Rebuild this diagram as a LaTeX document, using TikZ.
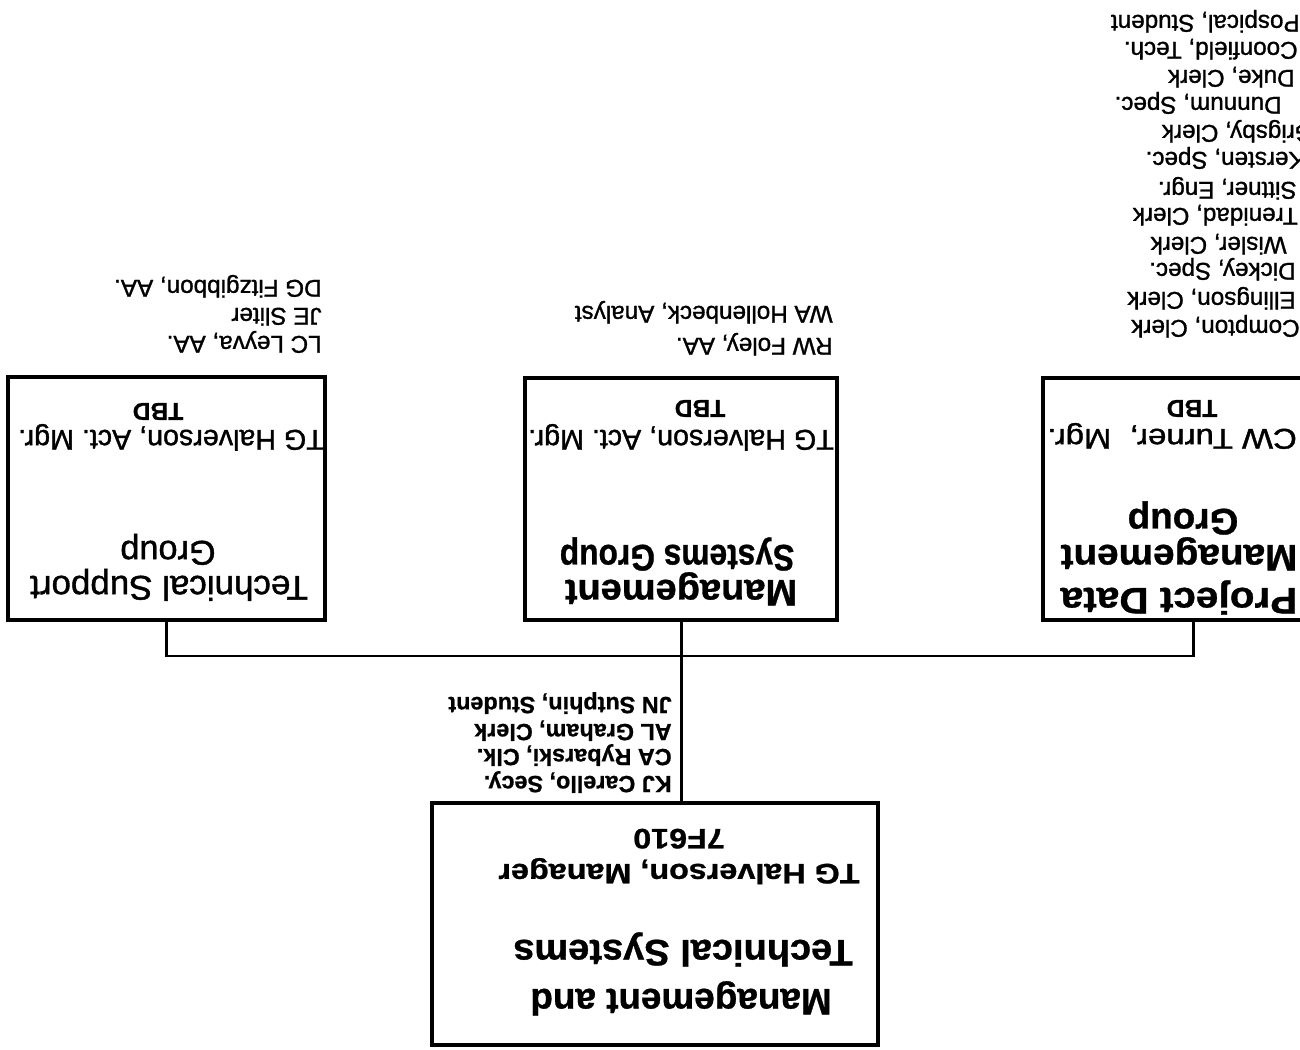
\documentclass[tikz,border=0pt]{standalone}
\usepackage{fontspec}
\setmainfont{Liberation Sans}
\newfontfamily\hv[FakeBold=1.2]{Liberation Sans}
\newfontfamily\hvb[FakeBold=0.8]{Liberation Sans Bold}
\frenchspacing
\begin{document}
\begin{tikzpicture}[x=0.02cm,y=-0.02cm,
  box/.style={draw, line width=2pt, inner sep=0pt},
  wire/.style={line width=1.7pt},
  txt/.style={inner sep=0pt, anchor=base},
  ttl/.style={txt, font=\fontsize{21}{25}\selectfont\hvb},
  ttlr/.style={txt, font=\fontsize{19.5}{23}\selectfont\hv},
  mgr/.style={txt, font=\fontsize{16.3}{19}\selectfont\hv},
  mgrb/.style={txt, font=\fontsize{16}{19}\selectfont\hvb},
  tbd/.style={txt, font=\fontsize{14}{16}\selectfont\hvb},
  lst/.style={inner sep=0pt, anchor=base west, font=\fontsize{13.8}{16}\selectfont\hv},
  lstb/.style={inner sep=0pt, anchor=base west, font=\fontsize{13.3}{16}\selectfont\hvb}]
\useasboundingbox (0,0) rectangle (1300,1050);
\fill[white] (0,0) rectangle (1300,1050);
\clip (0,0) rectangle (1300,1050);
\begin{scope}[rotate around={180:(650,525)}, transform shape]
  % boxes
  \node[box, minimum width=8.92cm, minimum height=4.84cm] (mt) at (645,126) {};
  \node[box, minimum width=6.34cm, minimum height=4.86cm] (ts) at (1133.5,551.5) {};
  \node[box, minimum width=6.24cm, minimum height=4.84cm] (msg) at (619,551) {};
  \node[box, minimum width=6.0cm, minimum height=4.84cm] (pdm) at (107,551) {};
  % connectors
  \coordinate (bus) at (619,394);
  \draw[wire] (mt.south -| msg.north) -- (msg.north);
  \draw[wire] (ts.north) -- (ts.north |- bus) -- (pdm.north |- bus) -- (pdm.north);
  % main box
  \node[ttl] (mt1) at (619,61) {Management and};
  \node[ttl] (mt2) at (617,110) {\scalebox{1.03}[1]{Technical Systems}};
  \node[mgrb] (mt3) at (621,186) {\scalebox{1.15}[1]{TG Halverson, Manager}};
  \node[mgrb] (mt4) at (621,221) {\scalebox{1.15}[1]{7F610}};
  % main staff
  \node[lstb] (k1) at (628,274) {KJ Carello, Secy.};
  \node[lstb] (k2) at (628,301) {CA Rybarski, Clk.};
  \node[lstb] (k3) at (628,326) {AL Graham, Clerk};
  \node[lstb] (k4) at (628,353) {JN Sutphin, Student};
  % technical support
  \node[ttlr] (ts1) at (1131,474) {\scalebox{1.02}[1]{Technical Support}};
  \node[ttlr] (ts2) at (1132,509) {Group};
  \node[mgr] (ts3) at (1129,620) {TG Halverson, Act. Mgr.};
  \node[tbd] (ts4) at (1142,647) {TBD};
  \node[lst] (t1) at (978,714) {LC Leyva, AA.};
  \node[lst] (t2) at (978,742) {JE Sliter};
  \node[lst] (t3) at (978,770) {DG Fitzgibbon, AA.};
  % management systems
  \node[ttl] (ms1) at (619,470) {\scalebox{1.03}[1]{Management}};
  \node[ttl] (ms2) at (623,505) {\scalebox{0.86}[1]{Systems Group}};
  \node[mgr] (ms3) at (619,620) {TG Halverson, Act. Mgr.};
  \node[tbd] (ms4) at (600,650) {TBD};
  \node[lst] (m1) at (467,712) {RW Foley, AA.};
  \node[lst] (m2) at (467,744) {WA Hollenbeck, Analyst};
  % project data management
  \node[ttl] (pd1) at (121,462) {\scalebox{1.1}[1]{Project Data}};
  \node[ttl] (pd2) at (121,505) {\scalebox{1.05}[1]{Management}};
  \node[ttl] (pd3) at (117,541) {Group};
  \node[mgr, anchor=base east] (pd4) at (253,621) {\scalebox{1.15}[1]{CW Turner,\ \ Mgr.}};
  \node[tbd] (pd5) at (108,650) {TBD};
  \node[lst] (p1) at (0,730) {Compton, Clerk};
  \node[lst] (p2) at (4,758) {Ellingson, Clerk};
  \node[lst] (p3) at (4,787) {Dickey, Spec.};
  \node[lst] (p4) at (13,813) {Wisler, Clerk};
  \node[lst] (p5) at (2,842) {Trenidad, Clerk};
  \node[lst] (p6) at (3,868) {Sittner, Engr.};
  \node[lst] (p7) at (-5,898) {Kersten, Spec.};
  \node[lst] (p8) at (-14,925) {Grigsby, Clerk};
  \node[lst] (p9) at (18,953) {Dunnum, Spec.};
  \node[lst] (p10) at (5,980) {Duke, Clerk};
  \node[lst] (p11) at (2,1008) {Coonfield, Tech.};
  \node[lst] (p12) at (0,1035) {Pospical, Student};
\end{scope}
\end{tikzpicture}
\end{document}
